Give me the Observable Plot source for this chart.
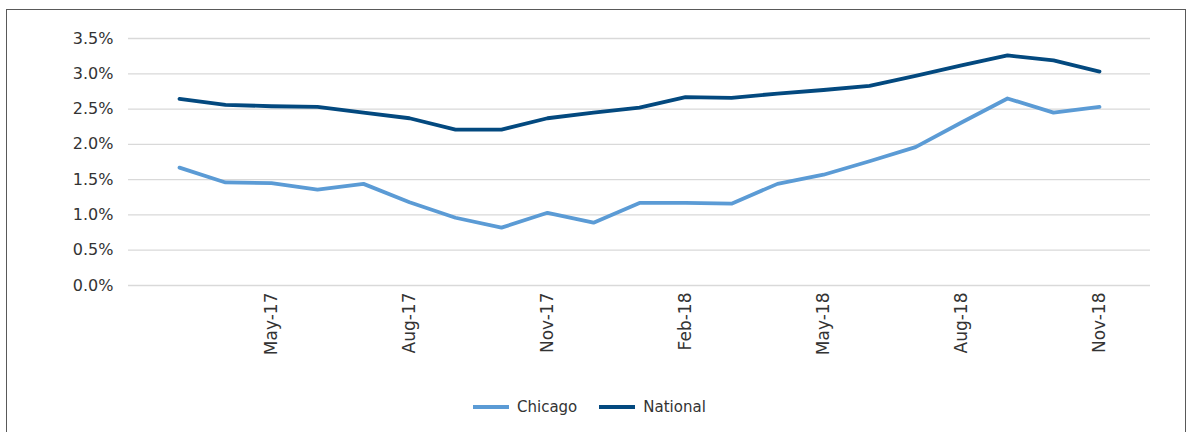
<!DOCTYPE html>
<html>
<head>
<meta charset="utf-8">
<script src="https://cdn.jsdelivr.net/npm/d3@7"></script>
<script src="https://cdn.jsdelivr.net/npm/@observablehq/plot@0.6"></script>
<style>
  html, body { margin: 0; padding: 0; background: #fff; }
  body { width: 1194px; height: 432px; position: relative; overflow: hidden; font-family: "DejaVu Sans", sans-serif; }
  #frame { position: absolute; left: 6px; top: 9px; width: 1180px; height: 440px; border: 1.5px solid #595959; border-bottom: none; box-sizing: border-box; }
  #chart { position: absolute; left: 0; top: 0; }
  #legend { position: absolute; left: 473px; top: 398px; display: flex; align-items: center; font-size: 15px; color: #333; }
  .item { display: flex; align-items: center; margin-right: 22px; }
  .swatch { width: 36px; height: 4px; margin-right: 8px; }
</style>
</head>
<body>
<div id="frame"></div>
<div id="chart"></div>
<div id="legend"></div>
<script>
const months = ["Mar-17","Apr-17","May-17","Jun-17","Jul-17","Aug-17","Sep-17","Oct-17","Nov-17","Dec-17",
                "Jan-18","Feb-18","Mar-18","Apr-18","May-18","Jun-18","Jul-18","Aug-18","Sep-18","Oct-18","Nov-18"];
const chicago = [1.67, 1.46, 1.45, 1.36, 1.44, 1.18, 0.96, 0.82, 1.03, 0.89, 1.17, 1.17, 1.16, 1.44, 1.57, 1.76, 1.96, 2.31, 2.65, 2.45, 2.53];
const national = [2.645, 2.56, 2.54, 2.53, 2.45, 2.37, 2.21, 2.21, 2.37, 2.45, 2.52, 2.67, 2.66, 2.72, 2.77, 2.83, 2.97, 3.12, 3.26, 3.19, 3.03];
const xTicks = ["May-17","Aug-17","Nov-17","Feb-18","May-18","Aug-18","Nov-18"];
const yTicks = [0, 0.5, 1.0, 1.5, 2.0, 2.5, 3.0, 3.5];
const seriesNames = ["Chicago", "National"];
const seriesColors = ["#5B9BD5", "#03497F"];

const rows = [];
months.forEach((m, i) => {
  rows.push({month: m, value: chicago[i], series: "Chicago"});
  rows.push({month: m, value: national[i], series: "National"});
});

const chart = Plot.plot({
  width: 1194,
  height: 385,
  marginLeft: 128,
  marginRight: 44,
  marginTop: 38,
  marginBottom: 100,
  style: { fontFamily: "DejaVu Sans, sans-serif", fontSize: "16px", color: "#333", background: "transparent" },
  x: { type: "point", domain: months, padding: 1, label: null },
  y: { domain: [0, 3.5], label: null },
  color: { domain: seriesNames, range: seriesColors },
  marks: [
    Plot.gridY(yTicks, { stroke: "#d9d9d9", strokeOpacity: 1, strokeWidth: 1.3 }),
    Plot.axisY(yTicks, { tickSize: 0, tickPadding: 15, tickFormat: d => d.toFixed(1) + "%", label: null, fontSize: 16 }),
    Plot.axisX(xTicks, { tickSize: 0, tickPadding: 10, tickRotate: -90, label: null, fontSize: 17, dy: -3 }),
    Plot.line(rows, { x: "month", y: "value", z: "series", stroke: "series", strokeWidth: 3.8, strokeLinejoin: "round", strokeLinecap: "round" })
  ]
});
document.getElementById("chart").appendChild(chart);

const legend = document.getElementById("legend");
seriesNames.forEach((name, i) => {
  const item = document.createElement("div");
  item.className = "item";
  const sw = document.createElement("span");
  sw.className = "swatch";
  sw.style.background = seriesColors[i];
  const t = document.createElement("span");
  t.textContent = name;
  item.appendChild(sw);
  item.appendChild(t);
  legend.appendChild(item);
});
</script>
</body>
</html>
